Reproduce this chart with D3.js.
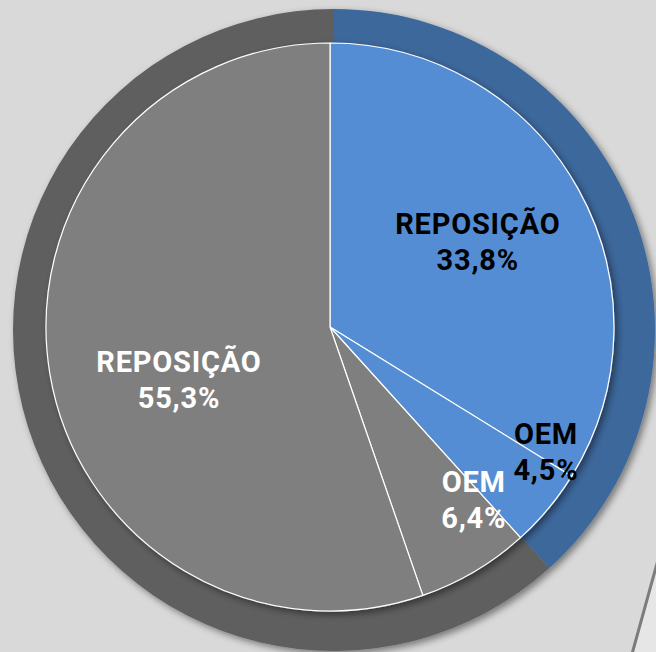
<!DOCTYPE html>
<html>
<head>
<meta charset="utf-8">
<script src="https://cdn.jsdelivr.net/npm/d3@7"></script>
<style>
  html, body { margin: 0; padding: 0; background: #d9d9d9; }
  svg { display: block; }
</style>
</head>
<body>
<div id="chart"></div>
<script>
// inner pie, clockwise from 12 o'clock
const sliceNames = ["REPOSIÇÃO", "OEM", "OEM", "REPOSIÇÃO"];
const sliceValues = [33.8, 4.5, 6.4, 55.3];
const sliceGroup = ["blue", "blue", "gray", "gray"];
// outer ring groups
const groups = ["blue", "gray"];

const width = 656, height = 652;

const innerColor = { blue: "#548dd4", gray: "#7f7f7f" };
const ringColor = { blue: "#3c689c", gray: "#5f5f5f" };
const labelColor = { blue: "#000", gray: "#fff" };

// where excel put the labels relative to the plain centroid
const labelNudge = [[-1, -2], [85, 16], [57, 26], [17, 25]];

const svg = d3.select("#chart").append("svg")
    .attr("width", width)
    .attr("height", height);

const defs = svg.append("defs");
defs.append("filter")
    .attr("id", "shadow")
    .attr("x", "-10%").attr("y", "-10%")
    .attr("width", "125%").attr("height", "125%")
  .append("feDropShadow")
    .attr("dx", 3).attr("dy", 3)
    .attr("stdDeviation", 3.5)
    .attr("flood-color", "#000")
    .attr("flood-opacity", 0.45);

// little page-corner line at bottom right
svg.append("path")
    .attr("d", "M659,562 L633,655 L660,655 Z")
    .attr("fill", "#e6e6e6");
svg.append("line")
    .attr("x1", 658).attr("y1", 560)
    .attr("x2", 632).attr("y2", 654)
    .attr("stroke", "#7c7c7c")
    .attr("stroke-width", 3);

const pie = d3.pie().sort(null).value(d => d.value);

// outer ring = sum per group
const groupData = groups.map(g => ({
    group: g,
    value: d3.sum(sliceValues.filter((v, i) => sliceGroup[i] == g))
}));

const outerR = 321, innerR = 284;

const ring = svg.append("g")
    .attr("transform", "translate(334,330)")
    .attr("filter", "url(#shadow)");

ring.selectAll("path")
    .data(pie(groupData))
    .enter()
    .append("path")
    .attr("d", d3.arc().innerRadius(0).outerRadius(outerR))
    .attr("fill", d => ringColor[d.data.group]);

const sliceData = sliceValues.map((v, i) => ({
    name: sliceNames[i], value: v, group: sliceGroup[i], idx: i
}));

const inner = svg.append("g")
    .attr("transform", "translate(330,327)");

const arcGen = d3.arc().innerRadius(0).outerRadius(innerR);

inner.append("g")
    .attr("filter", "url(#shadow)")
    .selectAll("path")
    .data(pie(sliceData))
    .enter()
    .append("path")
    .attr("d", arcGen)
    .attr("fill", d => innerColor[d.data.group])
    .attr("stroke", "#fff")
    .attr("stroke-width", 1.2)
    .attr("stroke-linejoin", "round");

const labelArc = d3.arc().innerRadius(0).outerRadius(innerR * 1.2);

const fmt = v => v.toFixed(1).replace(".", ",") + "%";

const labels = inner.selectAll("text")
    .data(pie(sliceData))
    .enter()
    .append("text")
    .attr("transform", d => {
        const c = labelArc.centroid(d);
        const n = labelNudge[d.data.idx];
        return `translate(${c[0] + n[0]},${c[1] + n[1]})`;
    })
    .attr("text-anchor", "middle")
    .attr("fill", d => labelColor[d.data.group])
    .style("font-family", "Roboto, 'Liberation Sans', sans-serif")
    .style("font-weight", "bold")
    .style("font-size", "29px")
    .style("letter-spacing", "0.8px");

labels.append("tspan")
    .attr("x", 0).attr("y", -8)
    .text(d => d.data.name);
labels.append("tspan")
    .attr("x", 0).attr("y", 28)
    .text(d => fmt(d.data.value));
</script>
</body>
</html>
